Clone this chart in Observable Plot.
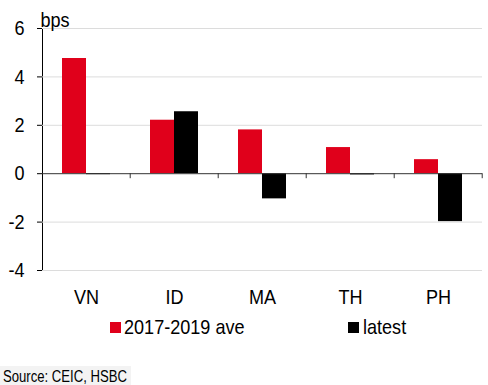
<!DOCTYPE html>
<html>
<head>
<meta charset="utf-8">
<script src="https://cdn.jsdelivr.net/npm/d3@7"></script>
<script src="https://cdn.jsdelivr.net/npm/@observablehq/plot@0.6"></script>
<style>
  html, body { margin: 0; padding: 0; background: #fff; }
  #wrap { position: relative; width: 488px; height: 385px; font-family: "Liberation Sans", Arial, sans-serif; color: #000; }
  .leg { position: absolute; top: 316px; height: 22px; line-height: 22px; font-size: 21px; white-space: nowrap; transform: scaleX(0.86); transform-origin: 0 50%; }
  .sw { position: absolute; top: 322px; width: 11px; height: 11px; }
  #srcbox { position: absolute; left: 0; top: 366px; width: 131px; height: 19px; background: #f3f3f3; }
  #src { position: absolute; left: 3px; top: 367px; font-size: 16px; line-height: 19px; white-space: nowrap; transform: scaleX(0.82); transform-origin: 0 50%; }
</style>
</head>
<body>
<div id="wrap"></div>
<script>
const categories = ["VN", "ID", "MA", "TH", "PH"];
const seriesNames = ["2017-2019 ave", "latest"];
const aveValues = [4.76, 2.21, 1.81, 1.08, 0.58];
const latestValues = [-0.04, 2.56, -1.04, -0.05, -1.98];
const yTicks = [-4, -2, 0, 2, 4, 6];
const yLabel = "bps";
const sourceText = "Source: CEIC, HSBC";
const colors = ["#e0001b", "#000000"];

const data = categories.flatMap((c, i) => [
  {cat: c, series: seriesNames[0], value: aveValues[i]},
  {cat: c, series: seriesNames[1], value: latestValues[i]}
]);

const W = 488, H = 312, mL = 41, mR = 5, mT = 28, mB = 42;
const outerPad = 0.77;
const facetW = (W - mL - mR) / categories.length;
const step = facetW / (seriesNames.length + 2 * outerPad);
const edgeDx = step * (0.5 + outerPad);
const squeeze = 0.86;

const chart = Plot.plot({
  width: W, height: H,
  marginTop: mT, marginBottom: mB, marginLeft: mL, marginRight: mR,
  style: {fontFamily: "'Liberation Sans', Arial, sans-serif", fontSize: "21px", color: "#000", background: "#fff", overflow: "visible"},
  fx: {domain: categories, padding: 0, label: null, axis: "bottom", tickSize: 0, tickPadding: 19},
  x: {domain: seriesNames, paddingInner: 0, paddingOuter: outerPad, align: 0.5, axis: null},
  y: {domain: [-4, 6], ticks: yTicks, tickSize: 5, tickPadding: 13, label: null, line: true,
      tickFormat: d => (d < 0 ? "-" + Math.abs(d) : String(d))},
  color: {domain: seriesNames, range: colors},
  marks: [
    Plot.ruleY(yTicks.filter(d => d !== 0), {stroke: "#dcdcdc", strokeWidth: 1}),
    Plot.barY(data, {fx: "cat", x: "series", y: "value", fill: "series"}),
    Plot.ruleY([0], {stroke: "#333", strokeWidth: 1}),
    Plot.ruleX(categories, {fx: d => d, x: () => seriesNames[1], y1: () => 0, y2: () => 0, dx: edgeDx, insetBottom: -5, stroke: "#333"}),
    Plot.text([yLabel], {fx: () => categories[0], frameAnchor: "top-left", textAnchor: "start", lineAnchor: "bottom", dx: -2, dy: -2, fontSize: 21})
  ]
});

// narrow the glyphs horizontally (the reference uses a condensed face)
chart.querySelectorAll("text").forEach(t => {
  const tr = t.getAttribute("transform");
  if (tr) t.setAttribute("transform", tr + ` scale(${squeeze},1)`);
});

const wrap = document.getElementById("wrap");
wrap.appendChild(chart);

const legendItems = [
  {name: seriesNames[0], color: colors[0], sw: 110, tx: 124},
  {name: seriesNames[1], color: colors[1], sw: 348, tx: 363}
];
for (const it of legendItems) {
  const s = document.createElement("div");
  s.className = "sw"; s.style.left = it.sw + "px"; s.style.background = it.color;
  wrap.appendChild(s);
  const t = document.createElement("div");
  t.className = "leg"; t.style.left = it.tx + "px"; t.textContent = it.name;
  wrap.appendChild(t);
}
const box = document.createElement("div");
box.id = "srcbox";
wrap.appendChild(box);
const src = document.createElement("div");
src.id = "src"; src.textContent = sourceText;
wrap.appendChild(src);
</script>
</body>
</html>
